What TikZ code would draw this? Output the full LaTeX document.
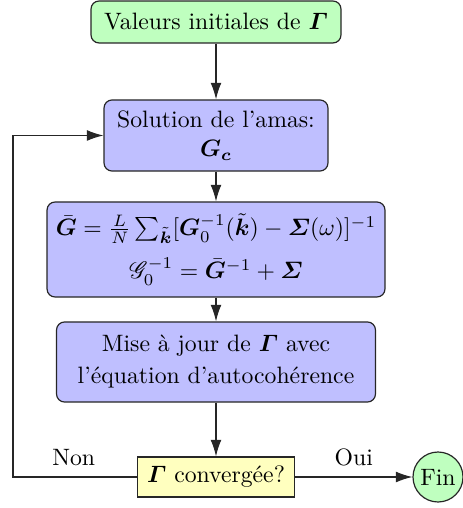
\documentclass[tikz,border=0pt]{standalone}
\usepackage{amsmath,amssymb,bm,mathrsfs}
\usetikzlibrary{arrows.meta}
\definecolor{boxgreen}{HTML}{BFFFBF}
\definecolor{boxblue}{HTML}{BFBFFF}
\definecolor{boxyellow}{HTML}{FFFFBF}
\tikzset{
  base/.style={draw=black!85, line width=0.5pt, inner sep=0pt, align=center, font=\fontsize{10}{12}\selectfont},
  rbox/.style={base, rounded corners=3.4pt},
  flow/.style={draw=black!85, line width=0.5pt, -{Latex[length=7pt,width=4.6pt]}},
  lab/.style={font=\fontsize{10}{12}\selectfont}
}
\begin{document}
\begin{tikzpicture}[x=0.422pt, y=-0.422pt]
\useasboundingbox (0,0) rectangle (463,508);
\node[rbox, fill=boxgreen, minimum width=105.5pt, minimum height=17.7pt] (init) at (216,22) {Valeurs initiales de $\boldsymbol{\varGamma}$};
\node[rbox, fill=boxblue, minimum width=94.5pt, minimum height=30pt] (sol) at (216,135.5) {Solution de l'amas:\\[0.5pt] $\boldsymbol{G_c}$};
\node[rbox, fill=boxblue, minimum width=142.6pt, minimum height=40.1pt] (form) at (216,249.5) {$\bar{\boldsymbol G} = \frac{L}{N}\sum_{\tilde{\boldsymbol k}}[\boldsymbol G_0^{-1}(\tilde{\boldsymbol k}) - \boldsymbol{\varSigma}(\omega)]^{-1}$\\[5pt] $\mathscr{G}_0^{-1} = \bar{\boldsymbol G}^{-1}+\boldsymbol{\varSigma}$};
\node[rbox, fill=boxblue, minimum width=134.6pt, minimum height=33.8pt] (maj) at (216,362) {Mise \`a jour de $\boldsymbol{\varGamma}$ avec\\[1.5pt] l'\'equation d'autocoh\'erence};
\node[base, fill=boxyellow, minimum width=66.3pt, minimum height=16.9pt] (conv) at (216,477) {$\boldsymbol{\varGamma}$ converg\'ee?};
\node[base, circle, fill=boxgreen, minimum size=21.1pt] (fin) at (438,477) {Fin};
\coordinate (lb) at (13,477);
\draw[flow] (init) -- (sol);
\draw[flow] (sol) -- (form);
\draw[flow] (form) -- (maj);
\draw[flow] (maj) -- (conv);
\draw[flow] (conv) -- node[lab, above=1pt, pos=0.5] (oui) {Oui} (fin);
\draw[flow] (conv.west) -- node[lab, above=1pt, pos=0.51] (non) {Non} (lb) |- (sol.west);
\end{tikzpicture}
\end{document}
